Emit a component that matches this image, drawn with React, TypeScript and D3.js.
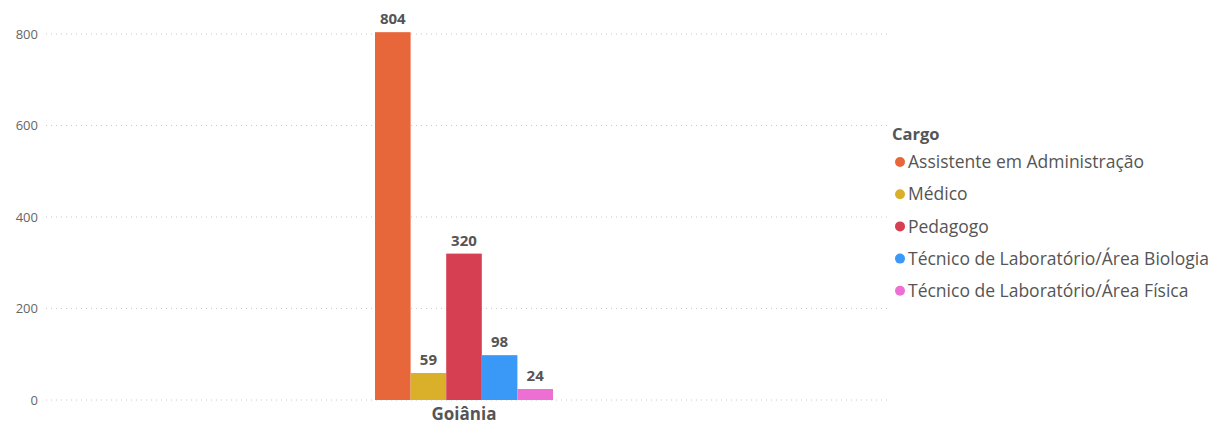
import React from "react";
import * as d3 from "d3";

const categories = ["Goiânia"];
const series = [
  "Assistente em Administração",
  "Médico",
  "Pedagogo",
  "Técnico de Laboratório/Área Biologia",
  "Técnico de Laboratório/Área Física",
];
const values = [804, 59, 320, 98, 24];
const colors = ["#E8673A", "#DAB02A", "#D63F51", "#3A99F6", "#EE6FD4"];
const yTicks = [0, 200, 400, 600, 800];
const legendTitle = "Cargo";

const W = 1210;
const H = 425;
const FONT = "'Open Sans', 'Noto Sans', sans-serif";

export default function App() {
  const y = d3.scaleLinear().domain([0, 800]).range([400, 34]);
  const x = d3
    .scaleBand<string>()
    .domain(categories)
    .range([40, 888])
    .paddingInner(0)
    .paddingOuter(1.882);
  const xs = d3
    .scaleBand<string>()
    .domain(series)
    .range([0, x.bandwidth()])
    .padding(0);

  return (
    <svg width={W} height={H} style={{ position: "absolute", left: 0, top: 0, background: "#fff" }}>
      {yTicks.map((t) => (
        <g key={t}>
          <line
            x1={46}
            x2={890}
            y1={y(t)}
            y2={y(t)}
            stroke="#c8c8c8"
            strokeWidth={1}
            strokeDasharray="1,4"
          />
          <text
            x={38}
            y={y(t)}
            dy="0.35em"
            textAnchor="end"
            fontFamily={FONT}
            fontSize={13}
            fill="#666"
          >
            {t}
          </text>
        </g>
      ))}
      {categories.map((c) => (
        <g key={c} transform={`translate(${x(c)},0)`}>
          {series.map((s, i) => (
            <g key={s}>
              <rect
                x={xs(s)}
                y={y(values[i])}
                width={xs.bandwidth()}
                height={y(0) - y(values[i])}
                fill={colors[i]}
              />
              <text
                x={(xs(s) as number) + xs.bandwidth() / 2}
                y={y(values[i]) - 8}
                textAnchor="middle"
                fontFamily={FONT}
                fontWeight="bold"
                fontSize={15}
                fill="#555"
              >
                {values[i]}
              </text>
            </g>
          ))}
          <text
            x={x.bandwidth() / 2}
            y={420}
            textAnchor="middle"
            fontFamily={FONT}
            fontWeight="bold"
            fontSize={17}
            fill="#555"
          >
            {c}
          </text>
        </g>
      ))}
      <g>
        <text x={892} y={140} fontFamily={FONT} fontWeight="bold" fontSize={16.5} fill="#555">
          {legendTitle}
        </text>
        {series.map((s, i) => {
          const cy = 162 + i * 32.2;
          return (
            <g key={s}>
              <circle cx={900} cy={cy} r={5} fill={colors[i]} />
              <text x={908} y={cy} dy="0.35em" fontFamily={FONT} fontSize={17.5} fill="#555">
                {s}
              </text>
            </g>
          );
        })}
      </g>
    </svg>
  );
}
